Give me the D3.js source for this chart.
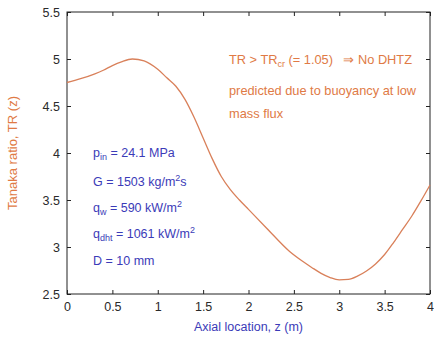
<!DOCTYPE html>
<html>
<head>
<meta charset="utf-8">
<script src="https://cdn.jsdelivr.net/npm/d3@7"></script>
<style>
  html, body { margin: 0; padding: 0; background: #fff; }
  svg { display: block; font-family: "Liberation Sans", Arial, Helvetica, sans-serif; }
</style>
</head>
<body>
<svg id="chart" width="434" height="339"></svg>
<script>
// Axial location z (m) and Tanaka ratio TR(z)
const axialZ = [0, 0.15, 0.3, 0.4, 0.5, 0.6, 0.72, 0.85, 1.0, 1.1, 1.2, 1.3, 1.4, 1.5, 1.6, 1.7, 1.8, 1.9, 2.0, 2.2, 2.45, 2.6, 2.7, 2.8, 2.9, 3.0, 3.1, 3.2, 3.3, 3.4, 3.5, 3.6, 3.7, 3.8, 3.9, 4.0];
const tanakaTR = [4.75, 4.79, 4.84, 4.88, 4.93, 4.97, 5.0, 4.98, 4.89, 4.80, 4.71, 4.57, 4.38, 4.16, 3.94, 3.75, 3.61, 3.5, 3.4, 3.2, 2.955, 2.845, 2.78, 2.72, 2.675, 2.65, 2.655, 2.69, 2.745, 2.82, 2.92, 3.05, 3.19, 3.33, 3.49, 3.66];
const xTicks = [0, 0.5, 1, 1.5, 2, 2.5, 3, 3.5, 4];
const yTicks = [2.5, 3, 3.5, 4, 4.5, 5, 5.5];

const orange = "#e07a45";
const blue = "#3b3bb8";
const lineColor = "#d9805a";

const svg = d3.select("#chart");
const m = { left: 67, right: 430, top: 12, bottom: 294 };

const x = d3.scaleLinear().domain([0, 4]).range([m.left, m.right]);
const y = d3.scaleLinear().domain([2.5, 5.5]).range([m.bottom, m.top]);

// Frame
svg.append("rect")
  .attr("x", m.left).attr("y", m.top)
  .attr("width", m.right - m.left).attr("height", m.bottom - m.top)
  .attr("fill", "none").attr("stroke", "#222").attr("stroke-width", 1);

const tickLen = 4;
const fmt = d => String(d);

// Bottom axis, ticks pointing inward
const gx = svg.append("g").attr("transform", `translate(0,${m.bottom})`)
  .call(d3.axisBottom(x).tickValues(xTicks).tickFormat(fmt).tickSizeInner(-tickLen).tickSizeOuter(0).tickPadding(8));
// Top axis ticks
const gxt = svg.append("g").attr("transform", `translate(0,${m.top})`)
  .call(d3.axisTop(x).tickValues(xTicks).tickFormat("").tickSizeInner(-tickLen).tickSizeOuter(0));
// Left axis
const gy = svg.append("g").attr("transform", `translate(${m.left},0)`)
  .call(d3.axisLeft(y).tickValues(yTicks).tickFormat(fmt).tickSizeInner(-tickLen).tickSizeOuter(0).tickPadding(7));
// Right axis ticks
const gyr = svg.append("g").attr("transform", `translate(${m.right},0)`)
  .call(d3.axisRight(y).tickValues(yTicks).tickFormat("").tickSizeInner(-tickLen).tickSizeOuter(0));

[gx, gxt, gy, gyr].forEach(g => {
  g.select(".domain").remove();
  g.selectAll(".tick line").attr("stroke", "#222");
  g.selectAll(".tick text").attr("fill", "#2a2a2a").attr("font-size", 12.5)
    .attr("font-family", "'Liberation Sans', Arial, sans-serif");
});

// Curve
const line = d3.line()
  .x((d, i) => x(axialZ[i]))
  .y(d => y(d))
  .curve(d3.curveMonotoneX);

svg.append("path")
  .datum(tanakaTR)
  .attr("d", line)
  .attr("fill", "none")
  .attr("stroke", lineColor)
  .attr("stroke-width", 1.3);

// Axis titles
svg.append("text")
  .attr("x", x(2)).attr("y", 331)
  .attr("text-anchor", "middle")
  .attr("font-size", 12.5)
  .attr("fill", blue)
  .text("Axial location, z (m)");

svg.append("text")
  .attr("transform", `translate(17,${(m.top + m.bottom) / 2}) rotate(-90)`)
  .attr("text-anchor", "middle")
  .attr("font-size", 13)
  .attr("fill", orange)
  .text("Tanaka ratio, TR (z)");

// Annotation (orange)
const ann = svg.append("g").attr("fill", orange).attr("font-size", 12.8);
const t1 = ann.append("text").attr("x", 229).attr("y", 64);
t1.append("tspan").text("TR > TR");
t1.append("tspan").attr("font-size", 9).attr("dy", 3).text("cr");
t1.append("tspan").attr("dy", -3).text(" (= 1.05)");
ann.append("text").attr("x", 412).attr("y", 64).attr("text-anchor", "end").text("\u21D2 No DHTZ");
ann.append("text").attr("x", 229).attr("y", 95).text("predicted due to buoyancy at low");
ann.append("text").attr("x", 229).attr("y", 118).text("mass flux");

// Parameters (blue)
const par = svg.append("g").attr("fill", blue).attr("font-size", 12.5);
const px = 93;
function addLine(yPos, parts) {
  const t = par.append("text").attr("x", px).attr("y", yPos);
  parts.forEach(p => {
    const s = t.append("tspan").text(p.t);
    if (p.sub) s.attr("font-size", 9).attr("dy", 3);
    if (p.sup) s.attr("font-size", 9).attr("dy", -5);
    if (p.back) s.attr("dy", p.back);
  });
}
addLine(157, [{ t: "p" }, { t: "in", sub: true }, { t: " = 24.1 MPa", back: -3 }]);
addLine(186, [{ t: "G = 1503 kg/m" }, { t: "2", sup: true }, { t: "s", back: 5 }]);
addLine(212, [{ t: "q" }, { t: "w", sub: true }, { t: " = 590 kW/m", back: -3 }, { t: "2", sup: true }]);
addLine(238, [{ t: "q" }, { t: "dht", sub: true }, { t: " = 1061 kW/m", back: -3 }, { t: "2", sup: true }]);
addLine(265, [{ t: "D = 10 mm" }]);
</script>
</body>
</html>
